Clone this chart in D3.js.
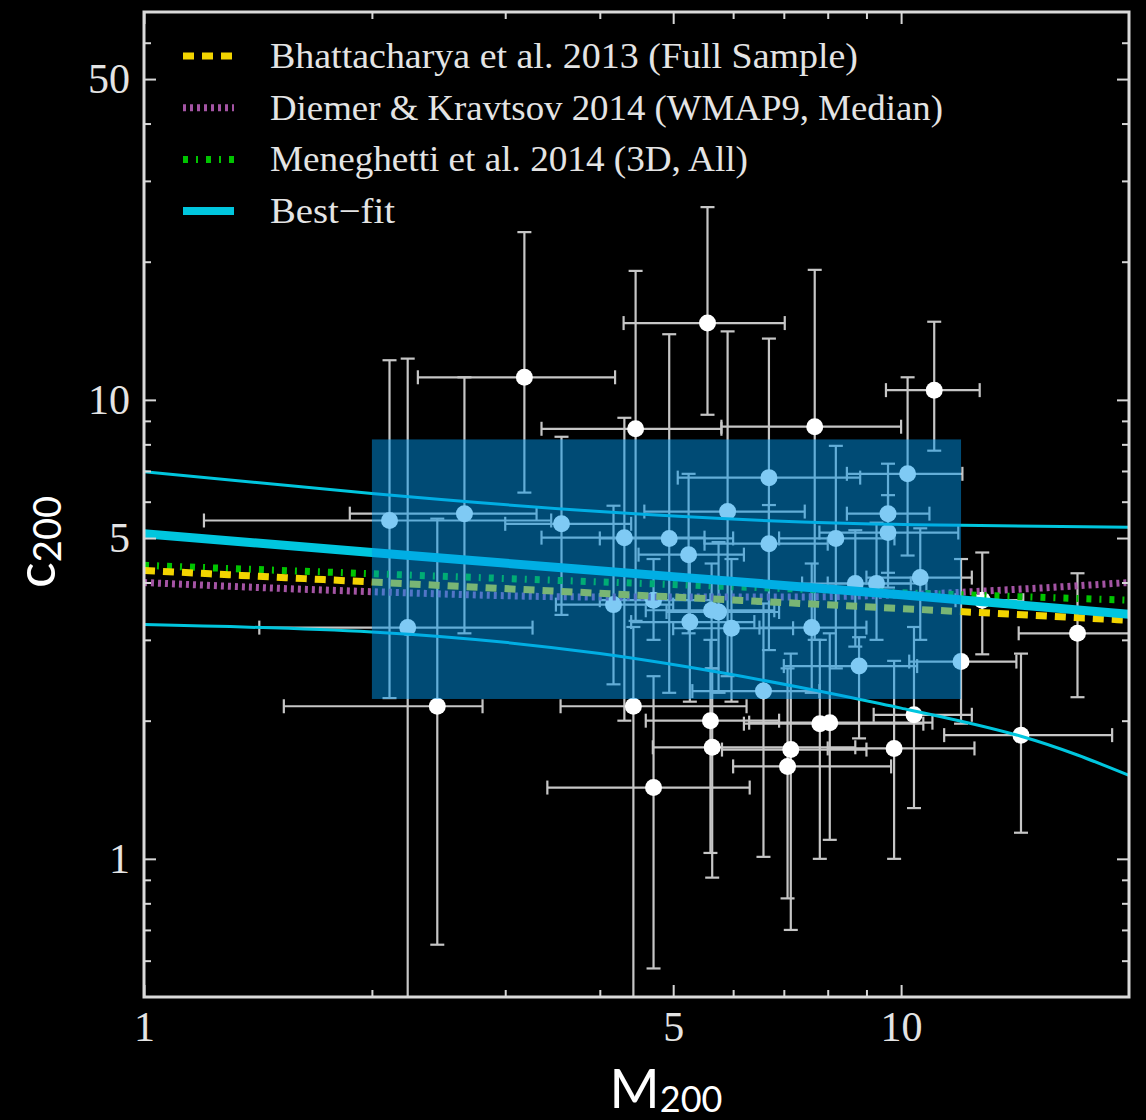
<!DOCTYPE html>
<html>
<head>
<meta charset="utf-8">
<script src="https://cdn.jsdelivr.net/npm/d3@7"></script>
<style>
  html, body { margin: 0; padding: 0; background: #000; }
  svg { display: block; }
</style>
</head>
<body>
<script>
// clusters: mass (x), concentration (y), asymmetric error bounds
var mass    = [3.18, 4.46, 5.55, 7.69, 11.06, 10.2, 6.69, 5.90, 9.61, 9.61, 4.31, 4.94, 8.2, 5.24, 6.69, 3.56, 2.65, 2.11, 2.23, 2.44,
               4.17, 4.71, 5.26, 5.62, 5.74, 5.97, 7.62, 8.70, 9.28, 10.6, 8.80, 12.0, 6.58, 4.43, 5.60, 5.63, 4.71, 7.81, 8.05, 7.15,
               7.08, 9.79, 10.4, 14.4, 17.1, 12.8];
var conc    = [11.2, 8.65, 14.7, 8.74, 10.5, 6.90, 6.77, 5.71, 5.65, 5.14, 5.01, 4.99, 4.99, 4.60, 4.86, 5.37, 5.65, 5.46, 3.19, 2.15,
               3.58, 3.66, 3.28, 3.48, 3.45, 3.18, 3.19, 3.98, 3.98, 4.10, 2.63, 2.69, 2.32, 2.15, 2.00, 1.75, 1.43, 1.97, 1.98, 1.73,
               1.59, 1.74, 2.06, 1.86, 3.10, 3.66];
var massLo  = [2.30, 3.35, 4.30, 5.79, 9.55, 8.48, 5.07, 4.58, 8.48, 7.8, 3.35, 4.0, 6.9, 4.5, 5.5, 3.0, 1.87, 1.20, 1.42, 1.53,
               3.5, 4.0, 4.4, 4.6, 4.9, 5.0, 6.5, 7.4, 8.0, 9.0, 7.0, 10.25, 5.3, 3.55, 4.6, 4.7, 3.41, 6.2, 6.3, 5.8,
               6.0, 8.0, 9.2, 11.4, 14.3, 11.8];
var massHi  = [4.19, 5.79, 7.02, 10.0, 12.7, 12.05, 8.83, 7.46, 10.9, 11.9, 5.5, 6.0, 9.8, 6.2, 8.0, 4.4, 3.30, 3.45, 3.26, 2.80,
               5.0, 5.6, 6.4, 6.8, 6.9, 7.2, 9.0, 10.3, 10.8, 12.4, 10.5, 14.2, 7.8, 6.25, 6.9, 8.7, 6.31, 10.7, 11.0, 9.0,
               9.7, 12.5, 12.4, 19.0, 20.5, 14.5];
var concLo  = [6.28, 3.3, 9.28, 3.0, 7.75, 4.58, 2.85, 2.5, 3.9, 4.2, 2.0, 2.3, 2.6, 3.1, 4.0, 3.4, 3.10, 2.24, 0.45, 0.65,
               2.4, 3.0, 2.2, 2.6, 2.3, 2.2, 2.3, 2.9, 3.0, 3.0, 1.83, 1.97, 1.01, 0.45, 1.03, 0.91, 0.577, 1.0, 1.1, 0.70,
               0.82, 1.0, 1.29, 1.14, 2.25, 2.79];
var concHi  = [23.2, 19.1, 26.3, 19.2, 14.8, 11.2, 13.6, 14.1, 7.26, 6.2, 9.14, 13.9, 7.94, 6.90, 5.9, 8.31, 11.2, 12.2, 12.3, 5.51,
               5.88, 4.5, 4.6, 4.4, 4.9, 4.5, 4.4, 5.2, 5.4, 5.25, 3.04, 4.5, 3.6, 3.2, 3.0, 2.6, 2.5, 3.0, 3.1, 2.8,
               2.6, 2.7, 3.2, 2.80, 4.19, 4.65];

// model relations
var bhattMass = [1, 2, 5, 10, 20];
var bhattConc = [4.25, 4.01, 3.72, 3.51, 3.31];
var diemerMass = [1, 2, 4, 7, 10, 14, 20];
var diemerConc = [4.0, 3.82, 3.72, 3.72, 3.76, 3.86, 4.0];
var menegMass = [1, 2, 5, 10, 20];
var menegConc = [4.36, 4.18, 3.96, 3.80, 3.66];

// best fit and its band
var fitMass = [1, 2, 5, 10, 20];
var fitConc = [5.11, 4.65, 4.12, 3.76, 3.41];
var upperMass = [1, 2, 4, 7.4, 12, 20];
var upperConc = [6.97, 6.25, 5.71, 5.42, 5.33, 5.28];
var lowerMass = [1, 2, 4, 7.4, 10, 14.4, 20];
var lowerConc = [3.24, 3.12, 2.80, 2.36, 2.13, 1.85, 1.52];

// highlighted region
var boxMass = [2.0, 12.0];
var boxConc = [2.23, 8.2];

var xTicks = [1, 5, 10];
var xMinor = [2, 3, 4, 6, 7, 8, 9];
var yTicks = [1, 5, 10, 50];
var yMinor = [0.6, 0.7, 0.8, 0.9, 2, 3, 4, 6, 7, 8, 9, 20, 30, 40, 60];

var legendLabels = ["Bhattacharya et al. 2013 (Full Sample)", "Diemer & Kravtsov 2014 (WMAP9, Median)",
                    "Meneghetti et al. 2014 (3D, All)", "Best\u2212fit"];

var width = 1146, height = 1120;
var pLeft = 144, pRight = 1129, pTop = 12, pBottom = 997;

var svg = d3.select("body").append("svg")
  .attr("width", width)
  .attr("height", height);

var x = d3.scaleLog().domain([1, 20]).range([pLeft, pRight]);
var y = d3.scaleLog().domain([0.5, 70]).range([pBottom, pTop]);

svg.append("defs").append("clipPath").attr("id", "plot")
  .append("rect").attr("x", pLeft).attr("y", pTop)
  .attr("width", pRight - pLeft).attr("height", pBottom - pTop);

var plot = svg.append("g").attr("clip-path", "url(#plot)");

var pts = mass.map(function (m, i) {
  return { m: m, c: conc[i], mlo: massLo[i], mhi: massHi[i], clo: concLo[i], chi: concHi[i] };
});

// error bars
var errCol = "#c6c6c6", cap = 7;
var eb = plot.append("g").attr("stroke", errCol).attr("stroke-width", 2.2).attr("fill", "none");
pts.forEach(function (d) {
  var px = x(d.m), py = y(d.c);
  eb.append("line").attr("x1", x(d.mlo)).attr("x2", x(d.mhi)).attr("y1", py).attr("y2", py);
  eb.append("line").attr("x1", x(d.mlo)).attr("x2", x(d.mlo)).attr("y1", py - cap).attr("y2", py + cap);
  eb.append("line").attr("x1", x(d.mhi)).attr("x2", x(d.mhi)).attr("y1", py - cap).attr("y2", py + cap);
  eb.append("line").attr("x1", px).attr("x2", px).attr("y1", y(d.clo)).attr("y2", y(d.chi));
  eb.append("line").attr("x1", px - cap).attr("x2", px + cap).attr("y1", y(d.clo)).attr("y2", y(d.clo));
  eb.append("line").attr("x1", px - cap).attr("x2", px + cap).attr("y1", y(d.chi)).attr("y2", y(d.chi));
});

plot.append("g").selectAll("circle")
  .data(pts)
  .enter().append("circle")
  .attr("cx", function (d) { return x(d.m); })
  .attr("cy", function (d) { return y(d.c); })
  .attr("r", 8.5)
  .attr("fill", "#ffffff");

var line = d3.line()
  .x(function (d) { return x(d[0]); })
  .y(function (d) { return y(d[1]); })
  .curve(d3.curveMonotoneX);

var band = d3.line()
  .x(function (d) { return x(d[0]); })
  .y(function (d) { return y(d[1]); })
  .curve(d3.curveNatural);

function zip(a, b) { return a.map(function (v, i) { return [v, b[i]]; }); }

var styles = [
  { col: "#f2d400", w: 7, dash: "11,8" },
  { col: "#a454a4", w: 7, dash: "3,4" },
  { col: "#00c400", w: 7, dash: "5,8,2,8" },
  { col: "#00c6de", w: 8, dash: null }
];

plot.append("path").datum(zip(upperMass, upperConc)).attr("d", band)
  .attr("fill", "none").attr("stroke", styles[3].col).attr("stroke-width", 3);
plot.append("path").datum(zip(lowerMass, lowerConc)).attr("d", band)
  .attr("fill", "none").attr("stroke", styles[3].col).attr("stroke-width", 3);

[zip(diemerMass, diemerConc), zip(menegMass, menegConc), zip(bhattMass, bhattConc)].forEach(function (d, i) {
  var s = styles[[1, 2, 0][i]];
  plot.append("path").datum(d).attr("d", line)
    .attr("fill", "none").attr("stroke", s.col).attr("stroke-width", s.w)
    .attr("stroke-dasharray", s.dash);
});

plot.append("path").datum(zip(fitMass, fitConc)).attr("d", line)
  .attr("fill", "none").attr("stroke", styles[3].col).attr("stroke-width", 9);

// highlight box over everything inside
plot.append("rect")
  .attr("x", x(boxMass[0])).attr("y", y(boxConc[1]))
  .attr("width", x(boxMass[1]) - x(boxMass[0]))
  .attr("height", y(boxConc[0]) - y(boxConc[1]))
  .attr("fill", "#0096ea").attr("fill-opacity", 0.5);

// axes, ticks pointing inward on all four sides
var tickCol = "#d6d6d6";
function fmt(d) { return d3.format("d")(d); }

var axes = [
  { ax: d3.axisBottom(x), pos: "translate(0," + pBottom + ")", major: xTicks, minor: xMinor, labels: true },
  { ax: d3.axisTop(x), pos: "translate(0," + pTop + ")", major: xTicks, minor: xMinor, labels: false },
  { ax: d3.axisLeft(y), pos: "translate(" + pLeft + ",0)", major: yTicks, minor: yMinor, labels: true },
  { ax: d3.axisRight(y), pos: "translate(" + pRight + ",0)", major: yTicks, minor: yMinor, labels: false }
];

axes.forEach(function (a) {
  var g1 = svg.append("g").attr("transform", a.pos)
    .call(a.ax.tickValues(a.minor).tickSize(-7).tickFormat(""));
  g1.select(".domain").remove();
  var g2 = svg.append("g").attr("transform", a.pos)
    .call(a.ax.tickValues(a.major).tickSizeInner(-12).tickSizeOuter(0).tickPadding(14)
      .tickFormat(a.labels ? fmt : ""));
  g2.select(".domain").remove();
  [g1, g2].forEach(function (g) {
    g.selectAll(".tick line").attr("stroke", tickCol).attr("stroke-width", 2);
  });
  g2.selectAll(".tick text")
    .attr("fill", "#e4e4e4")
    .style("font-family", "'Liberation Serif', 'DejaVu Serif', serif")
    .style("font-size", "42px");
});

svg.append("rect")
  .attr("x", pLeft).attr("y", pTop)
  .attr("width", pRight - pLeft).attr("height", pBottom - pTop)
  .attr("fill", "none").attr("stroke", "#dadada").attr("stroke-width", 3);

// legend
var legend = svg.append("g");
var legWidths = [588, 673, 478, 125];
legendLabels.forEach(function (lab, i) {
  var ly = 56 + i * 51.7;
  var s = styles[i];
  legend.append("line")
    .attr("x1", 183).attr("x2", 234).attr("y1", ly).attr("y2", ly)
    .attr("stroke", s.col).attr("stroke-width", s.w)
    .attr("stroke-dasharray", s.dash);
  legend.append("text")
    .attr("x", 270).attr("y", ly + 12)
    .attr("fill", "#e4e4e4")
    .attr("textLength", legWidths[i])
    .attr("lengthAdjust", "spacingAndGlyphs")
    .style("font-family", "'Liberation Serif', 'DejaVu Serif', serif")
    .style("font-size", "35px")
    .text(lab);
});

// axis titles
var xt = svg.append("text")
  .attr("x", 666).attr("y", 1108)
  .attr("text-anchor", "middle")
  .attr("fill", "#ffffff")
  .style("font-family", "Lato, 'Open Sans', sans-serif")
  .style("font-size", "54px");
xt.append("tspan").text("M");
xt.append("tspan").attr("dy", 4).style("font-size", "36px").text("200");

var yt = svg.append("text")
  .attr("transform", "translate(55,542) rotate(-90)")
  .attr("text-anchor", "middle")
  .attr("fill", "#ffffff")
  .style("font-family", "Lato, 'Open Sans', sans-serif")
  .style("font-size", "54px");
yt.append("tspan").text("c");
yt.append("tspan").attr("dy", 6).style("font-size", "38px").text("200");
</script>
</body>
</html>
